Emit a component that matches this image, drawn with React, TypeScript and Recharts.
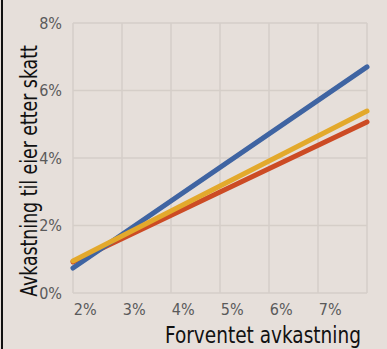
import React from "react";
import {
  LineChart,
  Line,
  XAxis,
  YAxis,
  CartesianGrid,
} from "recharts";

// forventet avkastning (%) at the left and right edge of the plot
const xValues = [1.75, 7.75];
const blue = [0.74, 6.7];
const yellow = [0.95, 5.39];
const red = [0.92, 5.07];

const xTicks = [2, 3, 4, 5, 6, 7];
const gridTicks = [1.75, 2.75, 3.75, 4.75, 5.75, 6.75, 7.75];
const yTicks = [0, 2, 4, 6, 8];

const data = xValues.map((x, i) => ({
  x,
  blue: blue[i],
  yellow: yellow[i],
  red: red[i],
}));

const font = "'DejaVu Sans Condensed', 'Liberation Sans', sans-serif";

const App = () => {
  return (
    <div
      style={{
        position: "fixed",
        top: 0,
        left: 0,
        width: 387,
        height: 349,
        background: "#e6dfda",
        fontFamily: font,
      }}
    >
      <div
        style={{
          position: "absolute",
          left: 1,
          top: 0,
          width: 2,
          height: 349,
          background: "#111",
        }}
      />
      <LineChart
        width={387}
        height={349}
        data={data}
        margin={{ top: 23, right: 20, left: 0, bottom: 0 }}
      >
        <CartesianGrid xAxisId="grid" stroke="#d5cec8" strokeWidth={1.5} />
        <XAxis
          xAxisId="grid"
          dataKey="x"
          type="number"
          domain={[1.75, 7.75]}
          ticks={gridTicks}
          hide
        />
        <XAxis
          dataKey="x"
          type="number"
          domain={[1.75, 7.75]}
          ticks={xTicks}
          tickFormatter={(v) => `${v}%`}
          axisLine={false}
          tickLine={false}
          height={56}
          tickMargin={5}
          tick={{ fill: "#5a5a5a", fontSize: 16, fontFamily: font }}
          label={{
            content: () => (
              <text
                x={263}
                y={343}
                textAnchor="middle"
                fill="#111"
                fontSize={23}
                fontFamily={font}
                textLength={196}
                lengthAdjust="spacingAndGlyphs"
              >
                Forventet avkastning
              </text>
            ),
          }}
        />
        <YAxis
          type="number"
          domain={[0, 8]}
          ticks={yTicks}
          tickFormatter={(v) => `${v}%`}
          axisLine={false}
          tickLine={false}
          width={73}
          tickMargin={5}
          tick={{ fill: "#5a5a5a", fontSize: 16, fontFamily: font }}
          label={{
            content: () => (
              <text
                x={0}
                y={0}
                transform="translate(37 171) rotate(-90) scale(0.68 1)"
                textAnchor="middle"
                fill="#111"
                fontSize={23}
                fontFamily={font}
                textLength={370}
                lengthAdjust="spacingAndGlyphs"
              >
                Avkastning til eier etter skatt
              </text>
            ),
          }}
        />
        <Line
          type="linear"
          dataKey="red"
          stroke="#cc4b24"
          strokeWidth={5}
          strokeLinecap="round"
          dot={false}
          isAnimationActive={false}
        />
        <Line
          type="linear"
          dataKey="blue"
          stroke="#3f64a2"
          strokeWidth={5}
          strokeLinecap="round"
          dot={false}
          isAnimationActive={false}
        />
        <Line
          type="linear"
          dataKey="yellow"
          stroke="#e3a92c"
          strokeWidth={5}
          strokeLinecap="round"
          dot={false}
          isAnimationActive={false}
        />
      </LineChart>
    </div>
  );
};

export default App;
